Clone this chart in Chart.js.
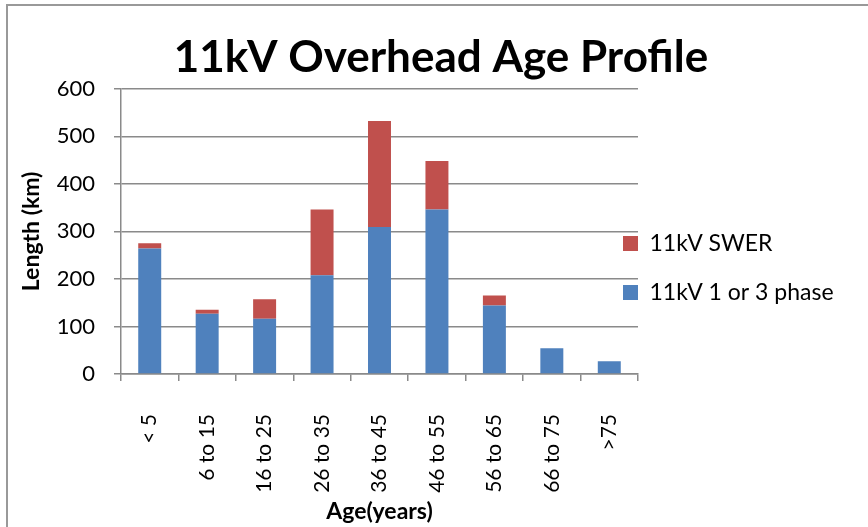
<!DOCTYPE html>
<html>
<head>
<meta charset="utf-8">
<script src="https://cdn.jsdelivr.net/npm/chart.js@4.4.1/dist/chart.umd.min.js"></script>
<style>
    html, body { margin: 0; padding: 0; background: #fff; }
    #wrap { position: relative; width: 868px; height: 527px; overflow: hidden; }
    #frame { position: absolute; left: 6px; top: 4px; width: 900px; height: 600px;
             border-left: 2px solid #999; border-top: 2px solid #999; }
    canvas { position: absolute; left: 0; top: 0; }
</style>
</head>
<body>
<div id="wrap">
    <div id="frame"></div>
    <canvas id="ageChart" width="868" height="527"></canvas>
</div>
<script>
// age bands and lengths in km
const ageBands = ['< 5', '6 to 15', '16 to 25', '26 to 35', '36 to 45', '46 to 55', '56 to 65', '66 to 75', '>75'];
const phaseKm = [264, 127, 116, 208, 309, 346, 144, 54, 27];
const swerKm = [11, 8, 41, 138, 223, 102, 21, 0, 0];
const yTicks = [0, 100, 200, 300, 400, 500, 600];

const gridGrey = '#8a8a8a';
const fontName = 'Lato';

// put the legend where Excel had it, partly over the plot's right edge
const legendPlace = {
    id: 'legendPlace',
    beforeInit(chart) {
        const lg = chart.legend;
        const fit = lg.fit;
        lg.fit = function () { fit.call(this); this.width = 230; };
    },
    afterLayout(chart) {
        const lg = chart.legend;
        const pad = lg.options.labels.padding;
        const h = lg.height;
        lg.left = 623 - pad; lg.right = chart.width;
        lg.top = 232 - pad; lg.bottom = lg.top + h;
    }
};

document.addEventListener('DOMContentLoaded', () => {
    const ctx = document.getElementById('ageChart').getContext('2d');

    new Chart(ctx, {
        type: 'bar',
        data: {
            labels: ageBands,
            datasets: [{
                label: '11kV 1 or 3 phase',
                data: phaseKm,
                backgroundColor: '#4f81bd',
                barPercentage: 0.4,
                categoryPercentage: 1
            }, {
                label: '11kV SWER',
                data: swerKm,
                backgroundColor: '#c0504d',
                barPercentage: 0.4,
                categoryPercentage: 1
            }]
        },
        options: {
            responsive: false,
            animation: false,
            layout: { padding: { left: 14, right: 0, top: 0, bottom: 0 } },
            plugins: {
                title: {
                    display: true,
                    text: '11kV Overhead Age Profile',
                    color: '#000',
                    font: { family: fontName, size: 44, weight: 'bold', lineHeight: 1.2 },
                    padding: { top: 31, bottom: 5 }
                },
                legend: {
                    position: 'right',
                    align: 'start',
                    reverse: true,
                    labels: {
                        color: '#000',
                        font: { family: fontName, size: 23 },
                        boxWidth: 15,
                        boxHeight: 15,
                        padding: 26
                    }
                },
                tooltip: { enabled: false }
            },
            scales: {
                x: {
                    stacked: true,
                    grid: { drawOnChartArea: false, tickLength: 7, color: gridGrey, lineWidth: 1.5 },
                    border: { color: gridGrey, width: 1.5 },
                    ticks: {
                        color: '#000',
                        font: { family: fontName, size: 21 },
                        minRotation: 90,
                        maxRotation: 90,
                        autoSkip: false,
                        padding: 33
                    },
                    title: {
                        display: true,
                        text: 'Age(years)',
                        color: '#000',
                        font: { family: fontName, size: 23, weight: 'bold' },
                        padding: { top: 4, bottom: 2 }
                    },
                    afterFit(scale) { scale.height = 153; }
                },
                y: {
                    stacked: true,
                    min: yTicks[0],
                    max: yTicks[yTicks.length - 1],
                    grid: { tickLength: 7, color: gridGrey, lineWidth: 1.5 },
                    border: { color: gridGrey, width: 1.5 },
                    ticks: {
                        stepSize: yTicks[1] - yTicks[0],
                        color: '#000',
                        font: { family: fontName, size: 22 },
                        padding: 19
                    },
                    title: {
                        display: true,
                        text: 'Length (km)',
                        color: '#000',
                        font: { family: fontName, size: 23, weight: 'bold' },
                        padding: { top: 4, bottom: 4 }
                    },
                    afterFit(scale) { scale.width = 107; }
                }
            }
        },
        plugins: [legendPlace]
    });
});
</script>
</body>
</html>
